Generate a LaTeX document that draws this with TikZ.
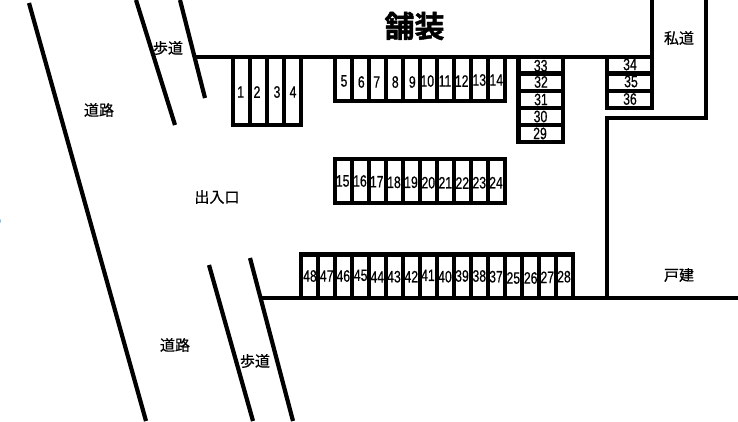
\documentclass[tikz,border=0pt]{standalone}
\usepackage{fontspec}
\newfontfamily\cjk[FakeBold=0.6]{Noto Sans CJK JP}
\newfontfamily\cjkb[FakeBold=1.5]{Noto Sans CJK JP Bold}
\newfontfamily\dig[FakeStretch=0.74,FakeBold=0.5]{Liberation Sans}
\tikzset{
 wall/.style={line width=4.2pt,line cap=butt,draw=black},
 road/.style={line width=4.2pt,draw=black},
 num/.style={inner sep=0pt,font=\dig\fontsize{16.5}{16.5}\selectfont,text=black},
 lbl/.style={inner sep=0pt,font=\cjk\fontsize{15}{15}\selectfont},
}
\begin{document}
\begin{tikzpicture}[x=1pt,y=-1pt]
\path[use as bounding box,fill=white] (0,0) rectangle (738,421);
\clip (0,0) rectangle (738,421);
\fill[blue!45!cyan!60] (-4,221) circle (5);
% road lines
\coordinate (ra) at (29,3);\coordinate (rb) at (146,421);
\coordinate (sa) at (136,0);\coordinate (sb) at (175,125);
\coordinate (ta) at (180,0);\coordinate (tb) at (205,98);
\coordinate (ua) at (209,265);\coordinate (ub) at (253,421);
\coordinate (va) at (250,258);\coordinate (vb) at (293,421);
\draw[road] (ra)--(rb);
\draw[road] (sa)--(sb);
\draw[road] (ta)--(tb);
\draw[road] (ua)--(ub);
\draw[road] (va)--(vb);
% boundary
\coordinate (t0) at (195,57);\coordinate (t1) at (652.5,57);\coordinate (t2) at (652,0);
\coordinate (p0) at (706,0);\coordinate (p1) at (706,118);\coordinate (p2) at (607,118);\coordinate (p3) at (607,298);
\coordinate (b0) at (261,298);\coordinate (b1) at (738,298);
\draw[wall] (t0)--(t1);
\draw[wall] (t2)--(652,110);
\draw[wall] (p0)--(p1)--(p2)--(p3);
\draw[wall] (b0)--(b1);
% box 1-4
\draw[wall] (232.7,57) |- (301,125) -- (301,57);
\foreach \x in {250,267.3,284}{\draw[wall] (\x,57)--(\x,125);}
% box 5-14
\draw[wall] (335.3,57) |- (505,101) -- (505,57);
\foreach \i in {1,...,9}{\draw[wall] ({335.3+\i*16.97},57)--({335.3+\i*16.97},101);}
% box 15-24
\draw[wall] (335.3,159) rectangle (505,203);
\foreach \i in {1,...,9}{\draw[wall] ({335.3+\i*16.97},159)--({335.3+\i*16.97},203);}
% box 25-48
\draw[wall] (300.7,298) |- (573.3,254.5) -- (573.3,298);
\foreach \i in {1,...,15}{\draw[wall] ({300.7+\i*17.04},254.5)--({300.7+\i*17.04},298);}
% box 29-33
\draw[wall] (518.5,57) |- (562.7,142) -- (562.7,57);
\foreach \y in {73.5,90.7,107.8,125}{\draw[wall] (518.5,\y)--(562.7,\y);}
% box 34-36
\draw[wall] (607,57) |- (652,107.8);
\foreach \y in {73.5,90.7}{\draw[wall] (607,\y)--(652,\y);}
% numbers
\foreach \t/\x/\y in {1/240.7/92,2/257/92,3/277/92,4/293/92,
 5/344/81,6/361.3/82,7/376.7/82,8/395.3/82,9/412.3/82,10/427.3/81,11/445/81,12/461.7/81,13/479.3/80,14/496.3/80,
 15/342.7/181,16/360/181,17/376.7/181.7,18/394/182.3,19/411/182.3,20/428.3/182.7,21/445.3/182.7,22/462.3/183,23/479.3/182.7,24/496/182.7,
 48/310/276,47/326.7/276,46/343.3/276,45/360.7/275.3,44/377.3/277,43/394/276.7,42/411.3/276.7,41/428/275.3,40/445/276.7,39/462/276,38/479.3/276,37/496/276.7,25/513.3/278,26/530.7/278,27/547.3/277.3,28/564/276.7,
 33/540.7/65.7,32/541/82,31/541/99.5,30/540.5/116.5,29/540/133.5,
 34/630/64.5,35/631/81.5,36/630/99}
 {\node[num] (n\t) at (\x,\y) {\t};}
% labels
\node[inner sep=0pt,font=\cjkb\fontsize{30}{30}\selectfont] (pave) at (414.5,26) {舗装};
\node[lbl] (priv) at (679,38) {私道};
\node[lbl] (walk1) at (168,48) {歩道};
\node[lbl] (road1) at (99,110) {道路};
\node[lbl] (gate) at (217,197) {出入口};
\node[lbl] (road2) at (175,345) {道路};
\node[lbl] (walk2) at (255,361) {歩道};
\node[lbl] (house) at (679,275) {戸建};
\end{tikzpicture}
\end{document}
